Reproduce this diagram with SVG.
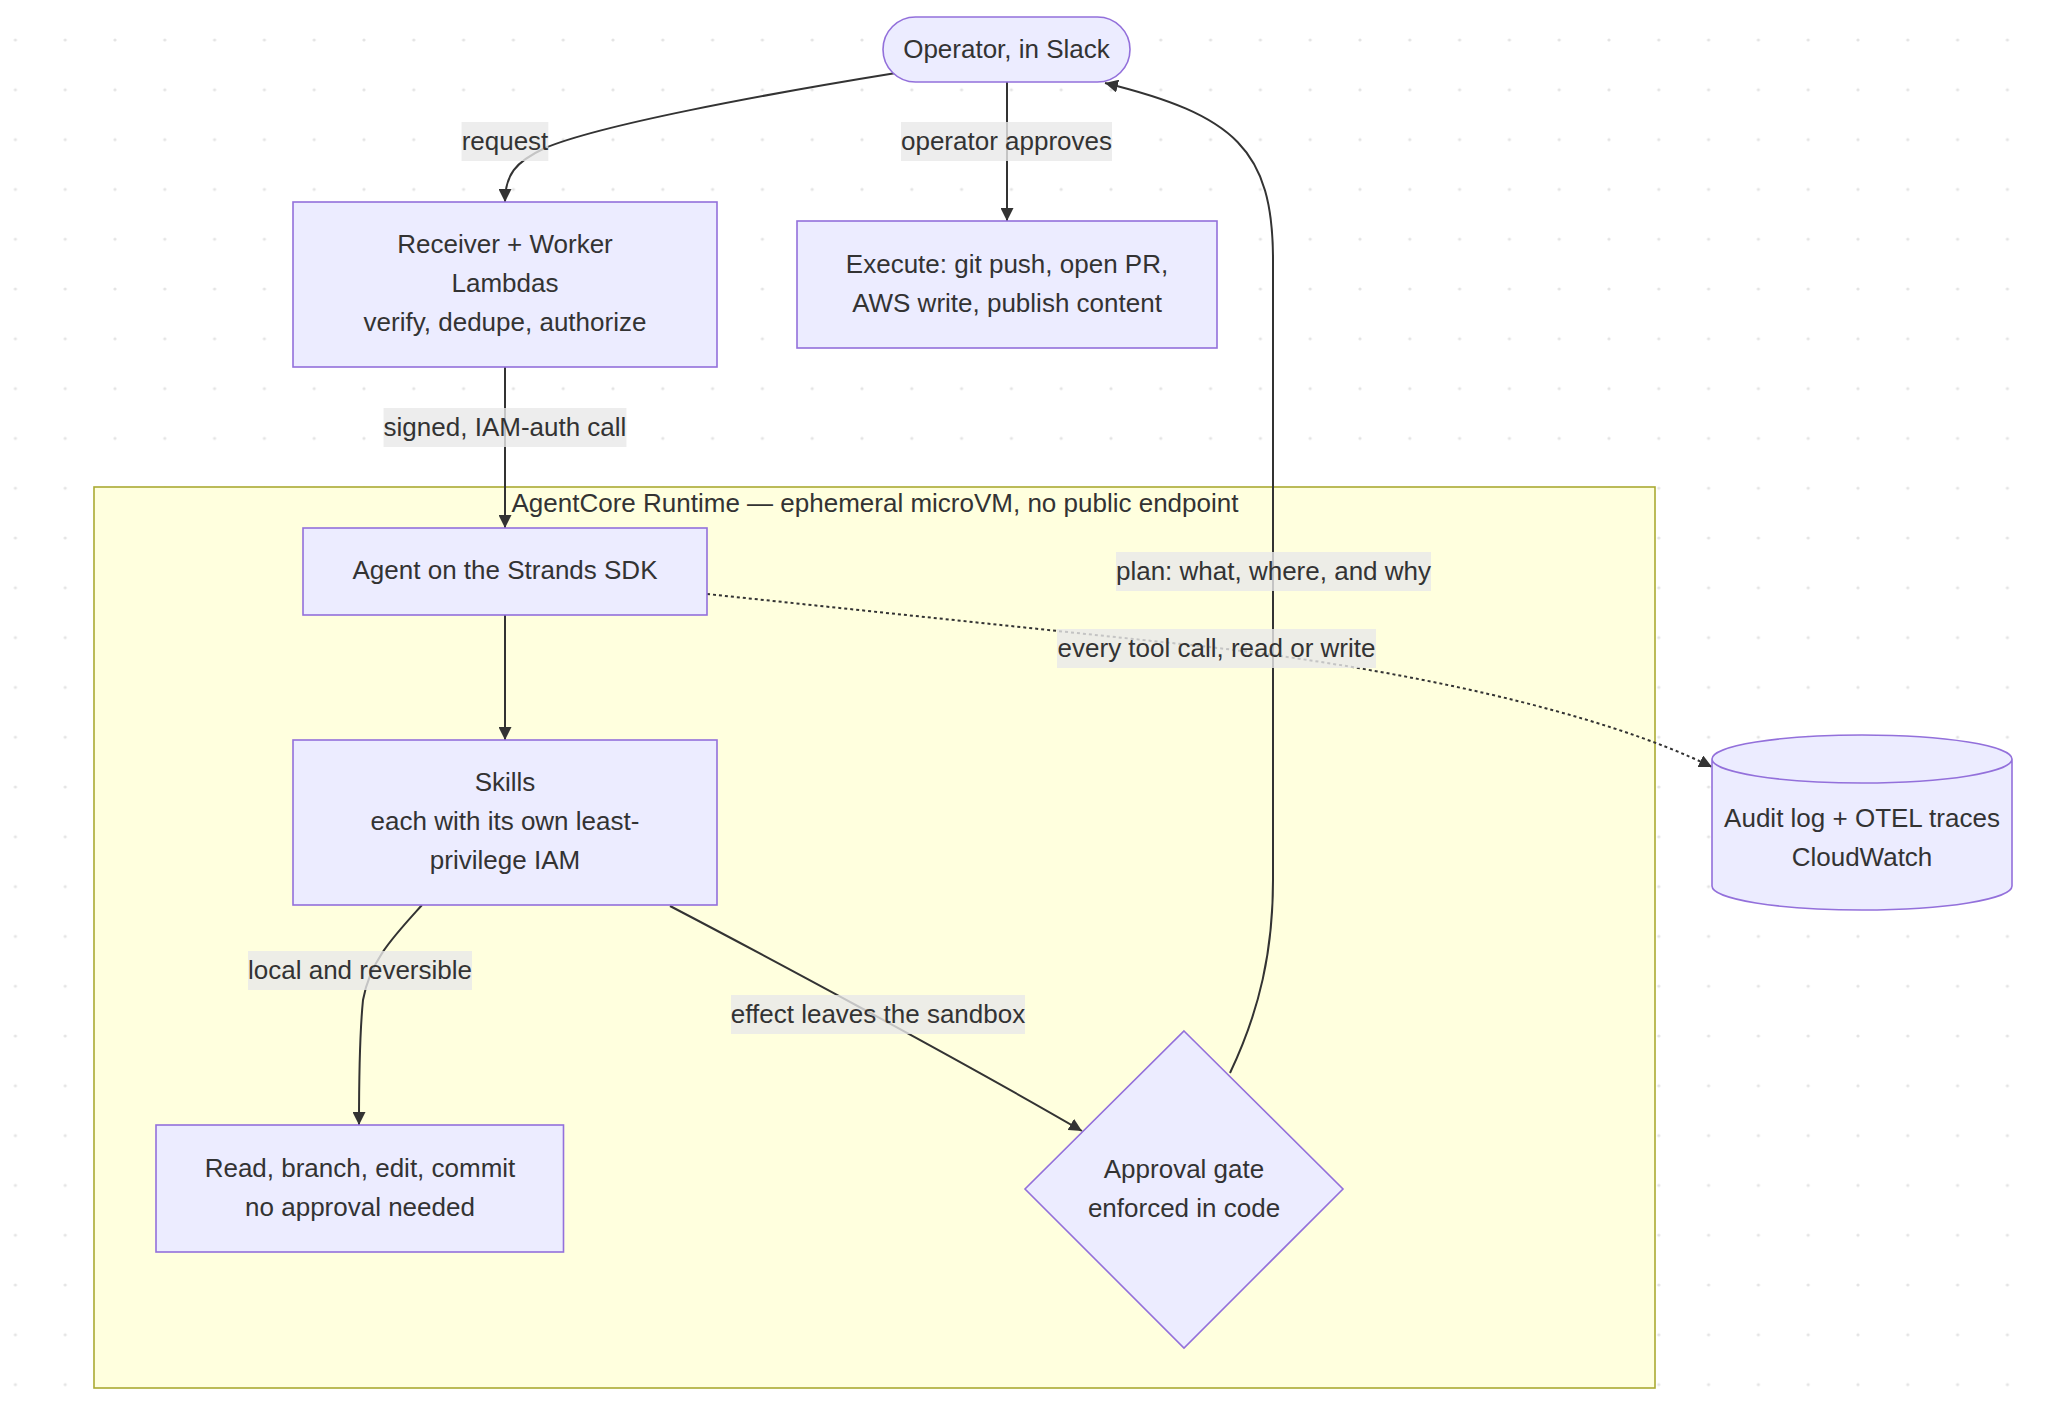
<svg xmlns="http://www.w3.org/2000/svg" width="2048" height="1424" viewBox="0 0 2048 1424">
<style>
text{font-family:"Liberation Sans",Arial,sans-serif;font-size:26px;fill:#333;text-anchor:middle}
.node{fill:#ececff;stroke:#9370db;stroke-width:1.6}
.edge{fill:none;stroke:#333;stroke-width:2}
.dotted{stroke-dasharray:3 3}
.lbl{fill:#e8e8e8;fill-opacity:0.8}
</style>
<defs>
<pattern id="grid" patternUnits="userSpaceOnUse" x="-9.5" y="15.1" width="49.8" height="49.8">
<circle cx="24.9" cy="24.9" r="1.6" fill="#e4e4e4"/>
</pattern>
<marker id="arrow" viewBox="0 0 10 10" refX="10" refY="5" markerUnits="userSpaceOnUse" markerWidth="13" markerHeight="13" orient="auto">
<path d="M0,0 L10,5 L0,10 z" fill="#333"/>
</marker>
</defs>
<rect width="2048" height="1424" fill="#fff"/>
<rect width="2048" height="1424" fill="url(#grid)"/>

<g id="cluster-agentcore">
<rect x="94" y="487" width="1561" height="901" fill="#ffffde" stroke="#aaaa33" stroke-width="1.6"/>
<text x="875" y="512">AgentCore Runtime — ephemeral microVM, no public endpoint</text>
</g>

<g id="connectors">
<path class="edge" d="M896,73 C760,95 600,125 545,148 C515,162 505,175 505,202" marker-end="url(#arrow)"/>
<path class="edge" d="M1007,82 L1007,221" marker-end="url(#arrow)"/>
<path class="edge" d="M505,367 L505,528" marker-end="url(#arrow)"/>
<path class="edge" d="M505,615 L505,740" marker-end="url(#arrow)"/>
<path class="edge dotted" d="M707,594 L1200,646 C1400,668 1600,712 1712,767" marker-end="url(#arrow)"/>
<path class="edge" d="M422,905 C395,935 370,960 363,1000 C359,1040 359,1090 359,1125" marker-end="url(#arrow)"/>
<path class="edge" d="M670,906 C760,953 960,1060 1082,1131" marker-end="url(#arrow)"/>
<path class="edge" d="M1230,1073 C1260,1010 1273,950 1273,880 L1273,260 C1273,150 1235,115 1105,83" marker-end="url(#arrow)"/>
</g>

<g id="edge-labels">
<rect class="lbl" x="461.6" y="122" width="86.7" height="39"/>
<text x="505" y="149.5">request</text>
<rect class="lbl" x="901" y="122" width="211" height="39"/>
<text x="1006.5" y="149.5">operator approves</text>
<rect class="lbl" x="383.6" y="408" width="242.8" height="39"/>
<text x="505" y="435.5">signed, IAM-auth call</text>
<rect class="lbl" x="1116" y="552" width="315" height="39"/>
<text x="1273.5" y="579.5">plan: what, where, and why</text>
<rect class="lbl" x="1057" y="629" width="319" height="39"/>
<text x="1216.5" y="656.5">every tool call, read or write</text>
<rect class="lbl" x="248" y="951" width="224" height="39"/>
<text x="360" y="978.5">local and reversible</text>
<rect class="lbl" x="731" y="995" width="294" height="39"/>
<text x="878" y="1022.5">effect leaves the sandbox</text>
</g>

<g id="node-operator">
<rect class="node" x="883" y="17" width="247" height="65" rx="32.5" ry="32.5"/>
<text x="1006.5" y="58">Operator, in Slack</text>
</g>

<g id="node-receiver">
<rect class="node" x="293" y="202" width="424" height="165"/>
<text x="505" y="253">Receiver + Worker</text>
<text x="505" y="292">Lambdas</text>
<text x="505" y="331">verify, dedupe, authorize</text>
</g>

<g id="node-execute">
<rect class="node" x="797" y="221" width="420" height="127"/>
<text x="1007" y="273">Execute: git push, open PR,</text>
<text x="1007" y="312">AWS write, publish content</text>
</g>

<g id="node-agent">
<rect class="node" x="303" y="528" width="404" height="87"/>
<text x="505" y="579">Agent on the Strands SDK</text>
</g>

<g id="node-skills">
<rect class="node" x="293" y="740" width="424" height="165"/>
<text x="505" y="791">Skills</text>
<text x="505" y="830">each with its own least-</text>
<text x="505" y="869">privilege IAM</text>
</g>

<g id="node-read">
<rect class="node" x="156" y="1125" width="407.5" height="127"/>
<text x="360" y="1177">Read, branch, edit, commit</text>
<text x="360" y="1216">no approval needed</text>
</g>

<g id="node-gate">
<polygon class="node" points="1184,1031 1343,1189 1184,1348 1025,1189"/>
<text x="1184" y="1178">Approval gate</text>
<text x="1184" y="1217">enforced in code</text>
</g>

<g id="node-audit">
<path class="node" d="M1712,759 a150,24 0 0,0 300,0 a150,24 0 0,0 -300,0 l0,127 a150,24 0 0,0 300,0 l0,-127"/>
<text x="1862" y="827">Audit log + OTEL traces</text>
<text x="1862" y="866">CloudWatch</text>
</g>
</svg>
